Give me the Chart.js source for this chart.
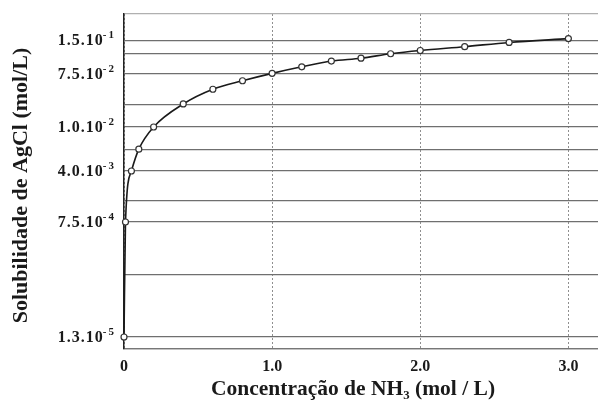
<!DOCTYPE html>
<html><head><meta charset="utf-8">
<script src="https://cdn.jsdelivr.net/npm/chart.js@4/dist/chart.umd.min.js"></script>
<style>html,body{margin:0;padding:0;background:#fff;} #wrap{width:598px;height:405px;}</style>
</head><body><div id="wrap"><canvas id="c" width="598" height="405"></canvas></div>
<script>
// ---- data ----
const concNH3 = [0, 0.01, 0.05, 0.1, 0.2, 0.4, 0.6, 0.8, 1.0, 1.2, 1.4, 1.6, 1.8, 2.0, 2.3, 2.6, 3.0];
const solubility = [1.3e-5, 7.5e-4, 4.0e-3, 6.3e-3, 1.0e-2, 2.4e-2, 4.2e-2, 5.8e-2, 7.6e-2, 8.7e-2, 9.8e-2, 1.04e-1, 1.14e-1, 1.22e-1, 1.32e-1, 1.44e-1, 1.56e-1];
const xTickValues = [0, 1, 2, 3];
const yLabelledValues = [1.5e-1, 7.5e-2, 1.0e-2, 4.0e-3, 7.5e-4, 1.3e-5];
const yGridValues = [8.5e-6, 1.3e-5, 1.16e-4, 7.5e-4, 1.49e-3, 4.0e-3, 6.28e-3, 1.0e-2, 2.37e-2, 7.5e-2, 1.15e-1, 1.5e-1, 0.26];
const xTitle = 'Concentração de NH₃ (mol / L)';
const yTitle = 'Solubilidade de AgCl (mol/L)';
// the printed y axis is a log axis whose labelled values are not evenly spaced:
// anchor values and their fractional height on the axis
const yAxisAnchorValues = [8.5e-6, 1.3e-5, 7.5e-4, 4.0e-3, 1.0e-2, 7.5e-2, 1.5e-1, 0.26];
const yAxisAnchorFractions = [0, 0.0358, 0.3791, 0.5313, 0.6627, 0.8209, 0.9209, 1];

const anchorLogs = yAxisAnchorValues.map(v => Math.log10(v));
function valueToFraction(v) {
  const L = Math.log10(v);
  let i = 0;
  while (i < anchorLogs.length - 2 && L > anchorLogs[i + 1]) i++;
  const f0 = yAxisAnchorFractions[i], f1 = yAxisAnchorFractions[i + 1];
  return f0 + (L - anchorLogs[i]) / (anchorLogs[i + 1] - anchorLogs[i]) * (f1 - f0);
}
function fractionToValue(f) {
  let i = 0;
  while (i < yAxisAnchorFractions.length - 2 && f > yAxisAnchorFractions[i + 1]) i++;
  const f0 = yAxisAnchorFractions[i], f1 = yAxisAnchorFractions[i + 1];
  return Math.pow(10, anchorLogs[i] + (f - f0) / (f1 - f0) * (anchorLogs[i + 1] - anchorLogs[i]));
}

class PiecewiseLogScale extends Chart.LogarithmicScale {
  getPixelForValue(value) {
    if (value === undefined || value === null || isNaN(value) || value <= 0) return NaN;
    return this.getPixelForDecimal(valueToFraction(value));
  }
  getValueForPixel(pixel) {
    return fractionToValue(this.getDecimalForPixel(pixel));
  }
}
PiecewiseLogScale.id = 'piecewiseLog';
PiecewiseLogScale.defaults = Chart.LogarithmicScale.defaults;
Chart.register(PiecewiseLogScale);

const serif = '"Liberation Serif", "Times New Roman", serif';

const labelPlugin = {
  id: 'axisTexts',
  afterDraw(chart) {
    const s = chart.scales.y, ctx = chart.ctx;
    ctx.save();
    ctx.fillStyle = '#1a1a1a';
    ctx.textBaseline = 'alphabetic';
    ctx.textAlign = 'right';
    yLabelledValues.forEach(v => {
      const parts = v.toExponential(1).split('e');
      const y = s.getPixelForValue(v);
      const sup = String(parseInt(parts[1], 10));
      const right = 116;
      ctx.font = 'bold 11px ' + serif;
      ctx.letterSpacing = '2px';
      const supW = ctx.measureText(sup).width;
      ctx.fillText(sup, right, y - 2);
      ctx.font = 'bold 16px ' + serif;
      ctx.letterSpacing = '1px';
      ctx.fillText(parts[0] + '.10', right - supW + 1, y + 5);
    });
    ctx.letterSpacing = '0px';
    ctx.textAlign = 'center';
    ctx.textBaseline = 'middle';
    // x axis title
    ctx.font = 'bold 21.5px ' + serif;
    ctx.fillText(xTitle, chart.scales.x.left + 229, 389);
    // y axis title
    ctx.font = 'bold 22px ' + serif;
    ctx.translate(21, (s.top + s.bottom) / 2 + 4);
    ctx.rotate(-Math.PI / 2);
    ctx.fillText(yTitle, 0, 0);
    ctx.restore();
  }
};

new Chart(document.getElementById('c'), {
  type: 'line',
  data: {
    datasets: [{
      data: concNH3.map((x, i) => ({x: x, y: solubility[i]})),
      borderColor: '#1a1a1a',
      borderWidth: 1.6,
      cubicInterpolationMode: 'monotone',
      pointRadius: 3,
      pointBackgroundColor: '#ffffff',
      pointBorderColor: '#333333',
      pointBorderWidth: 1.2,
      fill: false,
      clip: false
    }]
  },
  options: {
    responsive: false,
    animation: false,
    devicePixelRatio: 1,
    layout: {autoPadding: false, padding: {top: 14, left: 0, right: 0, bottom: 0}},
    plugins: {legend: {display: false}, tooltip: {enabled: false}},
    scales: {
      x: {
        type: 'linear', min: 0, max: 3.2,
        afterBuildTicks: s => { s.ticks = xTickValues.map(v => ({value: v})); },
        afterFit: s => { s.height = 56; },
        grid: {color: '#8f8f8f', lineWidth: 1, drawTicks: false},
        border: {display: true, color: '#777777', width: 1.2, dash: [2, 2]},
        ticks: {
          padding: 8, color: '#1a1a1a', maxRotation: 0,
          font: {family: serif, size: 16, weight: 'bold'},
          callback: v => v === 0 ? '0' : Number(v).toFixed(1)
        },
        title: {display: false}
      },
      y: {
        type: 'piecewiseLog',
        min: yGridValues[0], max: yGridValues[yGridValues.length - 1],
        afterBuildTicks: s => { s.ticks = yGridValues.map(v => ({value: v})); },
        afterFit: s => { s.width = 124; },
        grid: {color: ctx => ctx.index === yGridValues.length - 1 ? '#b0b0b0' : '#6f6f6f', lineWidth: 1.2, drawTicks: false},
        border: {display: true, color: '#222222', width: 1.5},
        ticks: {display: false},
        title: {display: false}
      }
    }
  },
  plugins: [labelPlugin]
});
</script>
</body></html>
